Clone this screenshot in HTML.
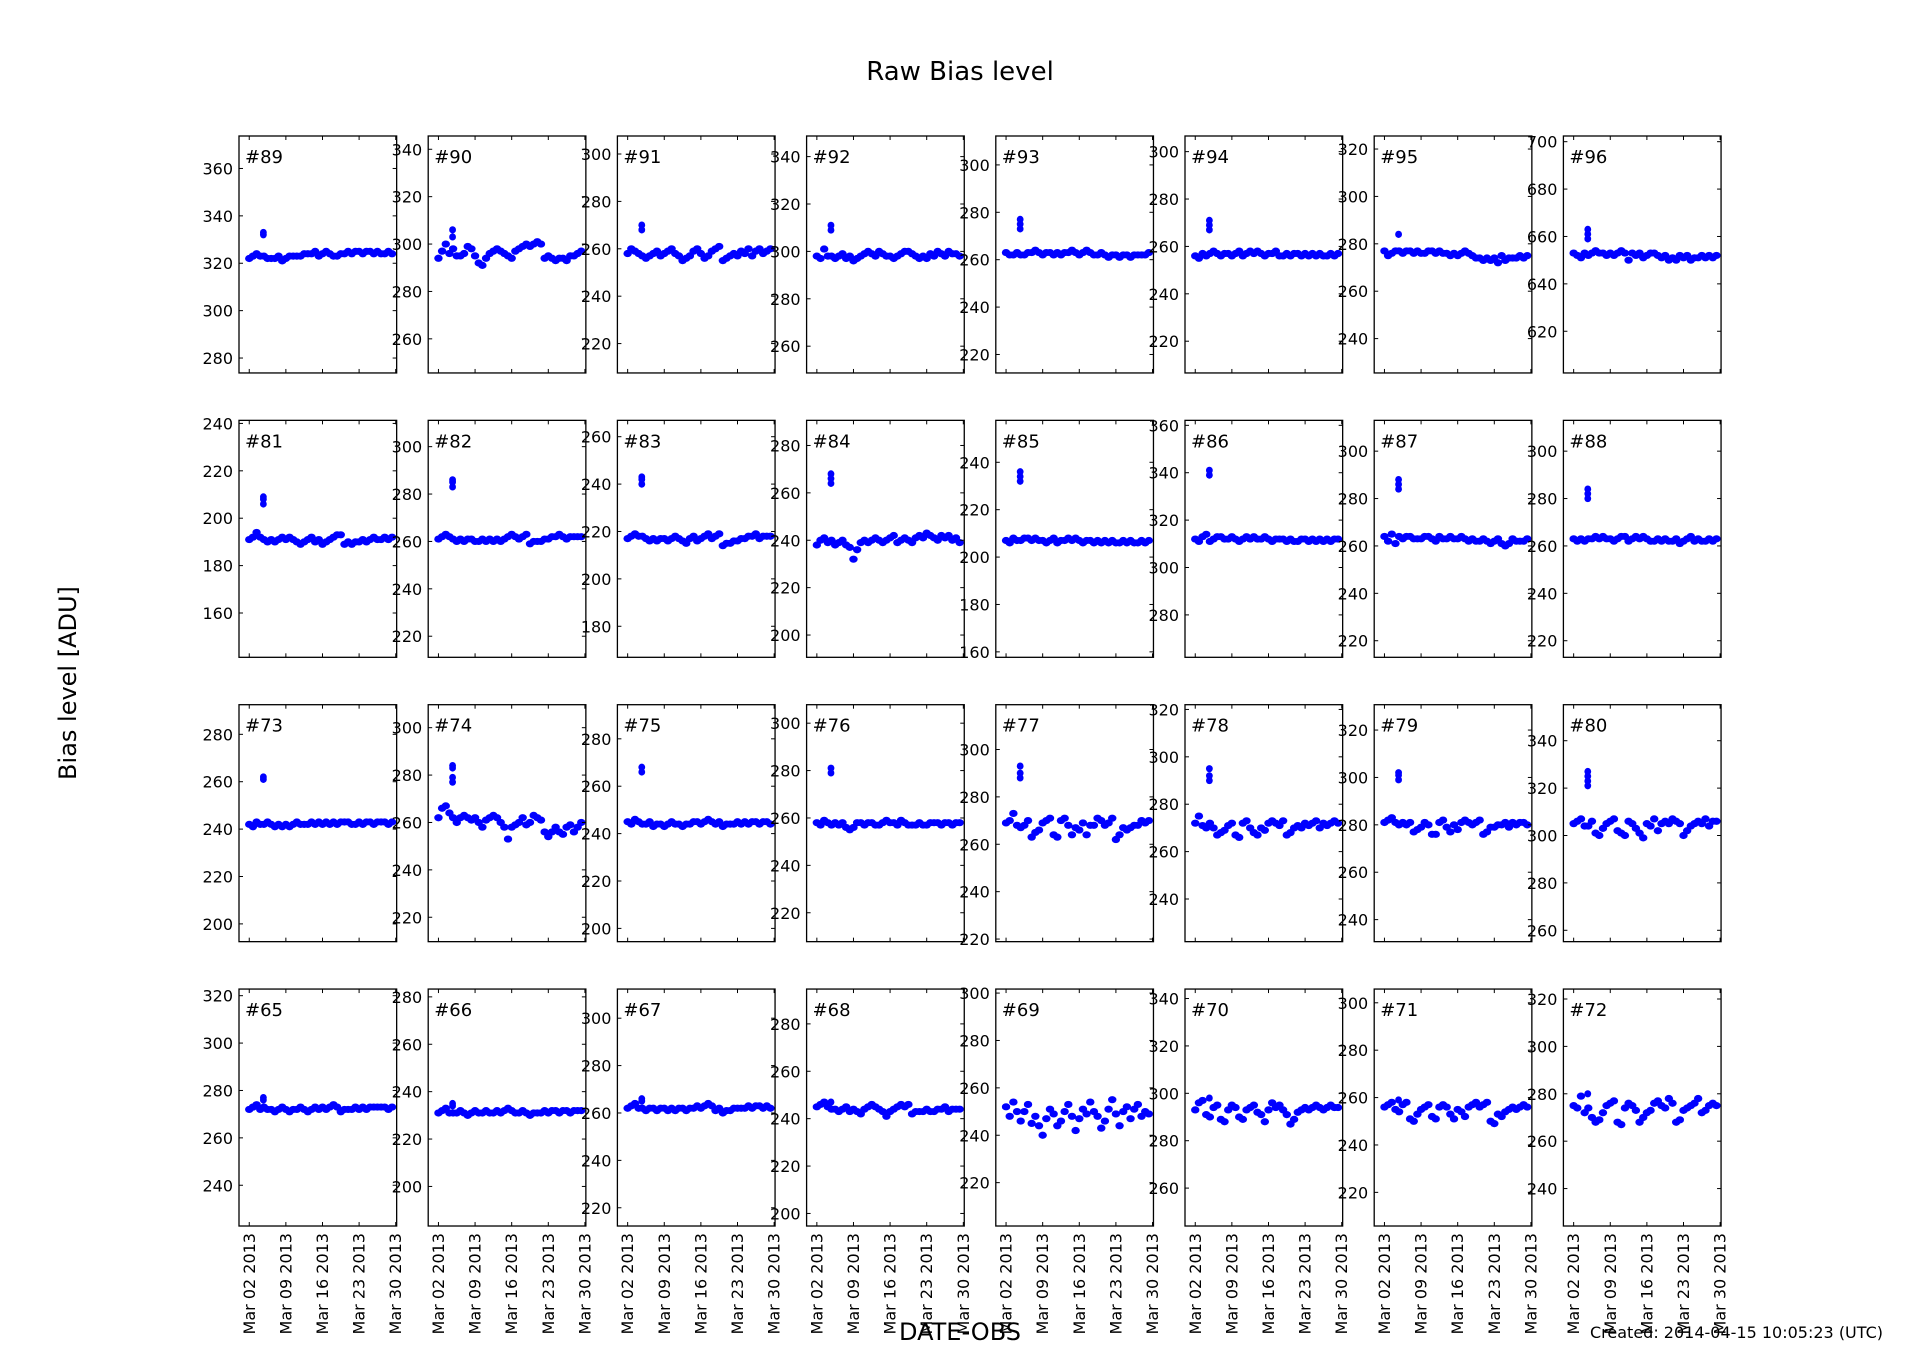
<!DOCTYPE html>
<html><head><meta charset="utf-8"><title>Raw Bias level</title>
<style>
html,body{margin:0;padding:0;background:#fff;}
svg{display:block;font-family:"DejaVu Sans","Liberation Sans",sans-serif;}
</style></head>
<body>
<svg id="fig" width="1912" height="1362" viewBox="0 0 1912 1362" xmlns="http://www.w3.org/2000/svg">
<rect width="1912" height="1362" fill="#fff"/>
<text x="960" y="80" font-size="26" text-anchor="middle">Raw Bias level</text>
<text x="0" y="0" font-size="24" text-anchor="middle" transform="translate(76,683) rotate(-90)">Bias level [ADU]</text>
<text x="960" y="1340" font-size="24" text-anchor="middle">DATE-OBS</text>
<text x="1590" y="1338" font-size="16">Created: 2014-04-15 10:05:23 (UTC)</text>
<g id="panels"></g>
</svg>
<script>
const dates = [2.0,2.7,3.4,4.1,4.8,5.5,6.2,6.9,7.6,8.3,9.0,9.7,10.4,11.1,11.8,12.5,13.2,13.9,14.6,15.3,16.0,16.7,17.4,18.1,18.8,19.5,20.2,20.9,21.6,22.3,23.0,23.7,24.4,25.1,25.8,26.5,27.2,27.9,28.6,29.3];
const outlierDate = 4.7;
const xTickDays = [2,9,16,23,30];
const xTickLabels = ["Mar 02 2013","Mar 09 2013","Mar 16 2013","Mar 23 2013","Mar 30 2013"];
const panelNames = ["#89","#90","#91","#92","#93","#94","#95","#96","#81","#82","#83","#84","#85","#86","#87","#88","#73","#74","#75","#76","#77","#78","#79","#80","#65","#66","#67","#68","#69","#70","#71","#72"];
const yMins = [273.7,245.6,207.6,248.7,212.2,206.6,225.5,602.4,141.3,211.1,166.9,190.6,157.7,262.1,213.0,213.0,192.5,209.7,194.4,207.8,218.9,222.0,230.7,255.2,222.8,183.3,212.3,194.7,201.7,244.0,205.8,224.2];
const v89=[322,323,324,323,323,322,322,322,323,321,322,323,323,323,323,324,324,324,325,323,324,325,324,323,323,324,324,325,324,325,325,324,325,325,324,325,324,324,325,324];
const v90=[294,297,300,296,298,295,295,296,299,298,295,292,291,294,296,297,298,297,296,295,294,297,298,299,300,299,300,301,300,294,295,294,293,294,294,293,295,295,296,297];
const v91=[258,260,259,258,257,256,257,258,259,257,258,259,260,258,257,255,256,257,259,260,258,256,257,259,260,261,255,256,257,258,257,259,258,260,257,259,260,258,259,260];
const v92=[298,297,301,298,298,297,298,299,297,298,296,297,298,299,300,299,298,300,299,298,298,297,298,299,300,300,299,298,297,298,297,299,298,300,299,298,300,299,299,298];
const v93=[263,262,262,263,262,262,263,263,264,263,262,263,263,262,263,262,263,263,264,263,262,263,264,263,262,262,263,262,261,262,262,261,262,262,261,262,262,262,262,263];
const v94=[256,255,257,256,257,258,257,256,257,257,256,257,258,256,257,258,257,258,257,256,257,257,258,256,256,257,256,257,257,256,257,256,257,256,257,256,256,257,256,257];
const v95=[277,275,276,277,277,276,277,277,276,277,276,276,277,277,276,277,276,276,275,276,275,276,277,276,275,274,274,273,274,273,274,272,275,273,274,274,274,275,274,275];
const v96=[653,652,651,653,652,653,654,653,653,652,653,652,653,654,653,650,653,652,653,651,652,653,653,652,651,652,650,651,650,652,651,652,650,651,651,652,651,652,651,652];
const v81=[191,192,194,192,191,190,191,190,191,192,191,192,191,190,189,190,191,192,190,191,189,190,191,192,193,193,189,190,189,190,190,191,190,191,192,191,191,192,191,192];
const v82=[261,262,263,262,261,260,261,260,261,261,260,260,261,260,261,260,261,260,261,262,263,262,261,262,263,259,260,260,260,261,261,262,262,263,262,261,262,262,262,262];
const v83=[217,218,219,218,218,217,216,217,216,217,217,216,217,218,217,216,215,217,218,216,217,218,219,217,218,219,214,215,215,216,216,217,217,218,218,219,217,218,218,218];
const v84=[238,240,241,239,240,238,239,240,238,237,232,236,239,240,239,240,241,240,239,240,241,242,239,240,241,240,239,241,242,241,243,242,241,240,242,241,242,240,241,239];
const v85=[207,206,208,207,207,208,208,207,208,207,207,206,207,208,206,207,207,208,207,208,207,206,207,207,206,207,206,207,206,207,206,206,207,206,207,206,206,207,206,207];
const v86=[312,311,313,314,311,312,313,313,312,312,313,312,311,312,313,312,313,312,312,313,312,311,312,312,312,311,312,311,311,312,312,311,312,311,312,311,312,311,312,312];
const v87=[264,262,265,261,264,263,264,264,263,263,263,264,264,263,262,264,263,263,264,263,263,264,263,262,263,262,262,263,262,261,262,263,261,260,261,263,262,262,262,263];
const v88=[263,262,263,262,263,263,264,263,264,263,263,262,263,264,264,262,263,264,263,264,263,262,262,263,262,263,262,262,263,261,262,263,264,262,263,262,262,263,262,263];
const v73=[242,241,243,242,242,243,242,241,242,241,242,241,242,243,242,242,242,243,242,243,242,243,242,243,242,243,243,243,242,242,243,242,243,243,242,243,243,243,242,243];
const v74=[262,266,267,264,262,260,262,263,262,261,262,260,258,261,262,263,262,260,258,253,258,259,260,262,259,260,263,262,261,256,254,256,258,256,255,258,259,256,258,260];
const v75=[245,244,246,245,244,244,245,243,244,244,243,244,245,244,244,243,244,244,245,245,244,245,246,245,244,245,243,244,244,244,245,244,245,244,245,245,244,245,245,244];
const v76=[258,257,259,258,257,258,257,258,256,255,256,258,258,257,258,258,257,257,258,259,258,258,257,259,258,257,257,257,258,257,257,258,258,258,257,258,258,257,258,258];
const v77=[269,270,273,268,267,268,270,263,265,266,269,270,271,264,263,270,271,268,264,267,266,269,264,268,268,271,270,268,269,271,262,264,267,266,267,268,268,270,269,270];
const v78=[272,275,271,270,272,270,267,268,269,271,272,267,266,272,273,270,268,267,270,269,272,273,272,271,273,267,268,270,271,270,272,271,272,273,270,272,271,272,273,272];
const v79=[281,282,283,281,280,281,280,281,277,278,279,281,280,276,276,281,282,279,277,280,278,281,282,281,280,281,282,276,277,279,279,280,280,281,279,281,280,281,281,280];
const v80=[305,306,307,304,304,306,301,300,303,305,306,307,302,301,300,306,305,303,301,299,305,304,307,302,305,306,305,307,306,305,300,302,304,305,306,305,307,304,306,306];
const v65=[272,273,274,272,273,272,272,271,272,273,272,271,272,272,273,272,271,272,273,272,273,272,273,274,273,271,272,272,272,273,272,273,272,273,273,273,273,273,272,273];
const v66=[231,232,233,231,231,231,232,231,230,231,232,231,231,232,231,231,232,231,232,233,232,231,231,232,231,230,231,231,231,232,231,232,232,231,232,232,231,232,232,232];
const v67=[262,263,264,262,262,261,262,262,261,262,262,261,262,261,262,262,261,262,262,263,262,263,264,263,261,262,260,261,261,262,262,262,262,263,262,263,263,262,263,262];
const v68=[245,246,247,245,244,244,243,244,245,243,244,243,242,244,245,246,245,244,243,241,243,244,245,246,245,246,242,243,243,243,244,243,243,244,244,245,243,244,244,244];
const v69=[252,248,254,250,246,250,253,245,248,244,240,247,251,249,244,246,250,253,248,242,247,251,249,254,250,248,243,246,251,255,249,244,250,252,247,251,253,248,250,249];
const v70=[293,296,297,291,290,294,295,289,288,293,295,294,290,289,293,294,295,292,291,288,293,296,294,295,293,291,287,289,292,293,294,293,294,295,294,293,294,295,294,294];
const v71=[256,257,258,255,254,257,258,251,250,253,255,256,257,252,251,256,257,256,253,251,255,254,252,256,257,258,256,257,258,250,249,253,252,254,255,256,255,256,257,256];
const v72=[275,274,279,272,274,270,268,269,272,275,276,277,268,267,274,276,275,273,268,270,272,273,276,277,275,274,278,276,268,269,273,274,275,276,278,272,273,275,276,275];
const seriesValues = [v89,v90,v91,v92,v93,v94,v95,v96,v81,v82,v83,v84,v85,v86,v87,v88,v73,v74,v75,v76,v77,v78,v79,v80,v65,v66,v67,v68,v69,v70,v71,v72];
const outlierValues = [[332,333],[303,306],[268,270],[309,311],[273,275,277],[267,269,271],[284],[659,661,663],
 [206,208,209],[283,285,286],[240,242,243],[264,266,268],[232,234,236],[339,341],[284,286,288],[280,282,284],
 [261,262],[277,279,283,284],[266,268],[279,281],[288,290,293],[290,292,295],[299,301,302],[321,323,325,327],
 [276,277],[234,235],[265,266],[247],[],[298],[259],[280]];
const yRange = 100;
const xMin = 0.04, xMax = 30.18;

const NS = "http://www.w3.org/2000/svg";
const root = document.getElementById("panels");
const L0 = 239, PW = 157.66, HP = 189.2, T0 = 136, PH = 236.96, VP = 284.35;
function mk(tag, attrs, parent){ const e=document.createElementNS(NS,tag); for(const k in attrs) e.setAttribute(k,attrs[k]); parent.appendChild(e); return e; }

panelNames.forEach((name, i) => {
  const col = i % 8, row = Math.floor(i / 8);
  const x0 = L0 + col * HP, y0 = T0 + row * VP;
  const yMin = yMins[i], yMax = yMin + yRange;
  const sx = d => x0 + (d - xMin) / (xMax - xMin) * PW;
  const sy = v => y0 + PH - (v - yMin) / (yMax - yMin) * PH;
  const g = mk("g", {}, root);
  
  
  const cid = "clip" + i;
  const cp = mk("clipPath", {id: cid}, g);
  mk("rect", {x: x0, y: y0, width: PW, height: PH}, cp);
  const mg = mk("g", {"clip-path": "url(#" + cid + ")", fill: "#0000ff"}, g);
  
  
  seriesValues[i].forEach((v, j) => {
    const c = mk("ellipse", {cx: sx(dates[j]).toFixed(2), cy: sy(v).toFixed(2), rx: 4.2, ry: 3.6}, mg);
    
    
  });
  outlierValues[i].forEach(v => {
    const c = mk("ellipse", {cx: sx(outlierDate).toFixed(2), cy: sy(v).toFixed(2), rx: 3.4, ry: 3.6}, mg);
    
    
  });
  const fr = mk("rect", {x: x0, y: y0, width: PW, height: PH, fill: "none", stroke: "#000", "stroke-width": 1.3}, g);
  
  
  xTickDays.forEach((d, k) => {
    const x = sx(d);
    mk("line", {x1: x, x2: x, y1: y0 + PH, y2: y0 + PH - 4, stroke: "#000", "stroke-width": 1}, g);
    mk("line", {x1: x, x2: x, y1: y0, y2: y0 + 4, stroke: "#000", "stroke-width": 1}, g);
    if (row === 3) {
      const t = mk("text", {x: 0, y: 0, "font-size": 16, "text-anchor": "end", transform: "translate(" + (x + 5.5).toFixed(2) + "," + (y0 + PH + 7) + ") rotate(-90)"}, g);
      t.textContent = xTickLabels[k];
      
      
    }
  });
  for (let v = Math.ceil(yMin / 20) * 20; v <= yMax; v += 20) {
    const y = sy(v);
    mk("line", {x1: x0, x2: x0 + 4, y1: y, y2: y, stroke: "#000", "stroke-width": 1}, g);
    mk("line", {x1: x0 + PW, x2: x0 + PW - 4, y1: y, y2: y, stroke: "#000", "stroke-width": 1}, g);
    const t = mk("text", {x: x0 - 6, y: y + 6, "font-size": 16, "text-anchor": "end"}, g);
    t.textContent = String(v);
    
    
  }
  const lbl = mk("text", {x: x0 + 6, y: y0 + 27, "font-size": 18}, g);
  lbl.textContent = name;
  
  
});
</script>
</body></html>
